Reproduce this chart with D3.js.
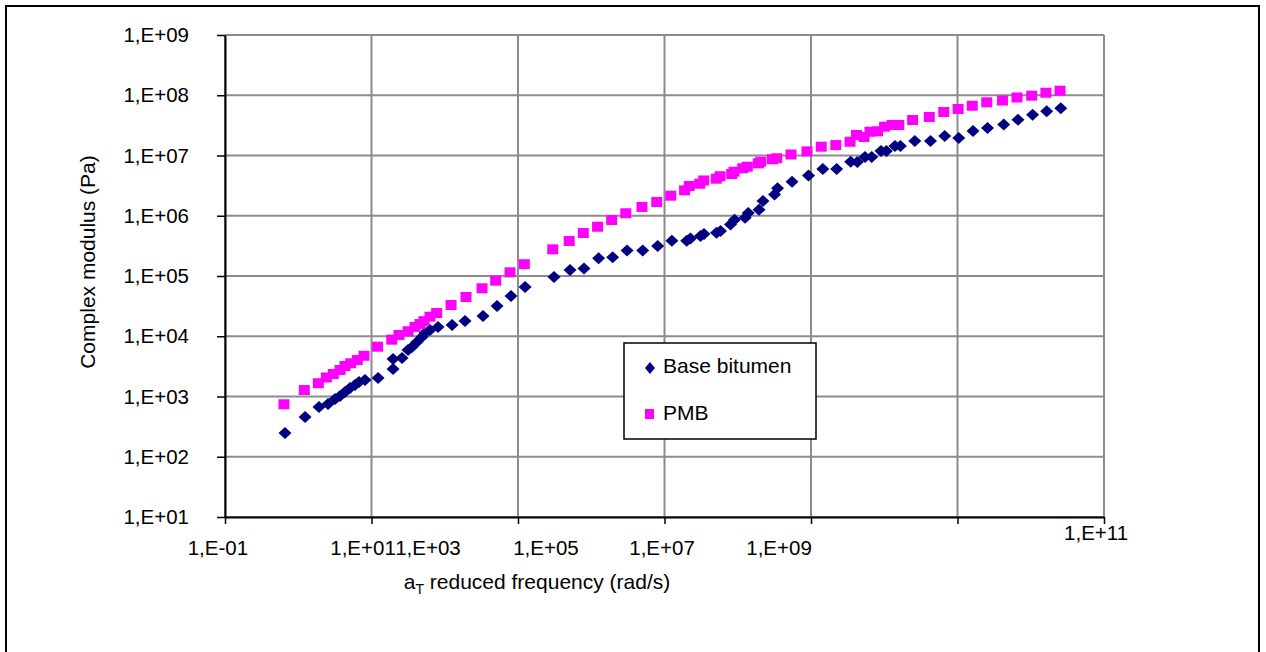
<!DOCTYPE html>
<html>
<head>
<meta charset="utf-8">
<script src="https://cdn.jsdelivr.net/npm/d3@7"></script>
<style>
  html, body { margin: 0; padding: 0; background: #fff; }
  svg { display: block; font-family: "Liberation Sans", Arial, sans-serif; }
</style>
</head>
<body>
<svg id="chart" width="1266" height="652"></svg>
<script>
// Base bitumen master curve: reduced frequency (rad/s) and complex modulus (Pa)
const baseFreq = [0.659,1.24,1.92,2.55,3.18,3.72,4.35,5.09,5.95,6.75,8.15,12.3,19.7,19.7,26.1,31.5,35.7,41.8,48.9,53.7,62.9,80.9,126,189,333,517,802,1250,3100,5130,7960,1.26e4,1.96e4,3.08e4,5.04e4,8.07e4,1.26e5,2.01e5,2.26e5,3.10e5,3.46e5,5.13e5,5.82e5,7.96e5,9.03e5,1.26e6,1.39e6,1.95e6,2.21e6,3.18e6,3.49e6,5.51e6,9.25e6,1.45e7,2.24e7,3.48e7,4.29e7,5.46e7,6.74e7,9.03e7,1.07e8,1.40e8,1.66e8,2.61e8,4.28e8,6.69e8,1.04e9,1.63e9,2.57e9,4.28e9,6.70e9,1.06e10,1.65e10,2.57e10];
const baseModulus = [248,457,670,751,909,1020,1190,1380,1550,1740,1880,2030,2860,4190,4360,5920,6630,8030,9720,1.13e4,1.27e4,1.43e4,1.54e4,1.79e4,2.17e4,3.18e4,4.66e4,6.57e4,9.62e4,1.26e5,1.33e5,1.97e5,2.04e5,2.65e5,2.65e5,3.15e5,3.85e5,3.85e5,4.19e5,4.61e5,4.98e5,5.23e5,5.58e5,7.16e5,8.60e5,9.25e5,1.11e6,1.26e6,1.76e6,2.25e6,2.86e6,3.67e6,4.66e6,5.97e6,5.97e6,7.89e6,7.80e6,9.44e6,9.44e6,1.19e7,1.19e7,1.44e7,1.44e7,1.74e7,1.74e7,2.11e7,1.95e7,2.55e7,2.86e7,3.27e7,3.93e7,4.75e7,5.42e7,6.10e7];

// PMB master curve
const pmbFreq = [0.638,1.21,1.88,2.42,3.01,3.72,4.35,5.20,6.40,7.90,12.1,18.9,23.7,31.5,39.3,45.9,52.1,62.9,77.6,122,195,323,496,778,1220,2980,5000,7790,1.22e4,1.90e4,2.96e4,4.93e4,7.83e4,1.22e5,1.88e5,2.18e5,3.03e5,3.43e5,5.09e5,5.73e5,8.26e5,8.89e5,1.17e6,1.35e6,1.91e6,2.06e6,2.96e6,3.40e6,5.33e6,8.81e6,1.38e7,2.18e7,3.41e7,4.18e7,5.29e7,6.38e7,8.09e7,1.01e8,1.28e8,1.58e8,2.44e8,4.12e8,6.49e8,1.02e9,1.59e9,2.51e9,4.11e9,6.49e9,1.03e10,1.61e10,2.51e10];
const pmbModulus = [743,1280,1660,2070,2360,2750,3210,3560,4030,4740,6710,8770,1.05e4,1.21e4,1.43e4,1.60e4,1.78e4,2.11e4,2.43e4,3.30e4,4.48e4,6.25e4,8.36e4,1.15e5,1.57e5,2.77e5,3.81e5,5.17e5,6.58e5,8.50e5,1.10e6,1.40e6,1.69e6,2.15e6,2.64e6,3.12e6,3.40e6,3.85e6,4.12e6,4.53e6,4.93e6,5.38e6,6.14e6,6.52e6,7.42e6,7.89e6,8.65e6,9.00e6,1.04e7,1.17e7,1.40e7,1.49e7,1.69e7,2.19e7,2.03e7,2.48e7,2.52e7,3.01e7,3.21e7,3.21e7,3.88e7,4.36e7,5.27e7,5.91e7,6.70e7,7.64e7,8.18e7,9.18e7,9.84e7,1.10e8,1.19e8];

const seriesNames = ["Base bitumen", "PMB"];

// Axis ticks and labels
const xTicks = [1e-1, 1e1, 1e3, 1e5, 1e7, 1e9, 1e11];
const xTickLabels = ["1,E-01", "1,E+01", "1,E+03", "1,E+05", "1,E+07", "1,E+09", "1,E+11"];
const xTickLabelAt = [0.08, 7.66, 59, 2410, 9.25e4, 3.66e6, 7.8e10];
const yTicks = [1e1, 1e2, 1e3, 1e4, 1e5, 1e6, 1e7, 1e8, 1e9];
const yTickLabels = ["1,E+01", "1,E+02", "1,E+03", "1,E+04", "1,E+05", "1,E+06", "1,E+07", "1,E+08", "1,E+09"];

const svg = d3.select("#chart");
const plot = { left: 225, right: 1104, top: 35, bottom: 517 };

const x = d3.scaleLog().domain([1e-1, 1e11]).range([plot.left, plot.right]);
const y = d3.scaleLog().domain([1e1, 1e9]).range([plot.bottom, plot.top]);

// outer frame
svg.append("rect")
  .attr("x", 6).attr("y", 6).attr("width", 1253).attr("height", 670)
  .attr("fill", "none").attr("stroke", "#000").attr("stroke-width", 2);

// gridlines
const grid = svg.append("g").attr("stroke", "#8c8c8c").attr("stroke-width", 2);
grid.selectAll("line.h").data(yTicks).join("line").attr("class", "h")
  .attr("x1", plot.left).attr("x2", plot.right)
  .attr("y1", d => y(d)).attr("y2", d => y(d));
grid.selectAll("line.v").data(xTicks).join("line").attr("class", "v")
  .attr("y1", plot.top).attr("y2", plot.bottom)
  .attr("x1", d => x(d)).attr("x2", d => x(d));

// axes
const xAxis = svg.append("g").attr("transform", `translate(0,${plot.bottom})`)
  .call(d3.axisBottom(x).tickValues(xTicks).tickFormat("").tickSizeInner(7).tickSizeOuter(0));
const yAxis = svg.append("g").attr("transform", `translate(${plot.left},0)`)
  .call(d3.axisLeft(y).tickValues(yTicks).tickFormat("").tickSizeInner(8).tickSizeOuter(0));
[xAxis, yAxis].forEach(a => {
  a.select(".domain").attr("stroke", "#000").attr("stroke-width", 2);
  a.selectAll(".tick line").attr("stroke", "#000").attr("stroke-width", 1.5);
});

// tick labels
svg.append("g").selectAll("text").data(yTickLabels).join("text")
  .attr("x", 189).attr("y", (d, i) => y(yTicks[i]))
  .attr("dy", "0.35em").attr("text-anchor", "end")
  .attr("font-size", 20.5).attr("fill", "#000").text(d => d);

svg.append("g").selectAll("text").data(xTickLabels).join("text")
  .attr("x", (d, i) => x(xTickLabelAt[i]))
  .attr("y", (d, i) => i === xTickLabels.length - 1 ? 540 : 555)
  .attr("text-anchor", "middle")
  .attr("font-size", 20.5).attr("fill", "#000").text(d => d);

// axis titles
const xt = svg.append("text").attr("x", 537).attr("y", 589)
  .attr("text-anchor", "middle").attr("font-size", 21).attr("fill", "#000");
xt.append("tspan").text("a");
xt.append("tspan").attr("font-size", 14).attr("dy", 5).text("T");
xt.append("tspan").attr("dy", -5).text(" reduced frequency (rad/s)");

svg.append("text")
  .attr("transform", "translate(95,262) rotate(-90)")
  .attr("text-anchor", "middle").attr("font-size", 21).attr("fill", "#000")
  .text("Complex modulus (Pa)");

// markers
const diamond = (cx, cy, w, h) => `M${cx},${cy - h} L${cx + w},${cy} L${cx},${cy + h} L${cx - w},${cy} Z`;

const basePts = baseFreq.map((f, i) => ({ f, g: baseModulus[i] }));
const pmbPts = pmbFreq.map((f, i) => ({ f, g: pmbModulus[i] }));

svg.append("g").selectAll("path").data(basePts).join("path")
  .attr("d", d => diamond(x(d.f), y(d.g), 6.5, 6))
  .attr("fill", "#000080");

svg.append("g").selectAll("rect").data(pmbPts).join("rect")
  .attr("x", d => x(d.f) - 5.5).attr("y", d => y(d.g) - 5)
  .attr("width", 11).attr("height", 10)
  .attr("fill", "#ff00ff");

// legend
const lg = svg.append("g");
lg.append("rect").attr("x", 624).attr("y", 343).attr("width", 192).attr("height", 96)
  .attr("fill", "#fff").attr("stroke", "#000").attr("stroke-width", 1.5);
lg.append("path").attr("d", diamond(650, 368, 5, 6)).attr("fill", "#000080");
lg.append("rect").attr("x", 645).attr("y", 409).attr("width", 9).attr("height", 10).attr("fill", "#ff00ff");
lg.selectAll("text").data(seriesNames).join("text")
  .attr("x", 663).attr("y", (d, i) => i === 0 ? 373 : 420)
  .attr("font-size", 21).attr("fill", "#000").text(d => d);
</script>
</body>
</html>
